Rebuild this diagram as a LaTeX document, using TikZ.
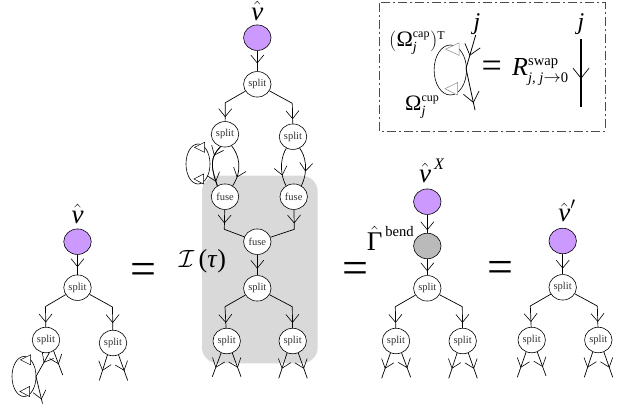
\documentclass[tikz,border=0pt]{standalone}
\usepackage{fontspec}
\setmainfont{Liberation Serif}
\usetikzlibrary{shapes.geometric,arrows.meta,decorations.markings}
\definecolor{blob}{HTML}{CC99FF}
\newcommand{\fsz}[2]{\mbox{\fontsize{#1}{#1}\selectfont #2}}
\newcommand{\vhat}{\hat{\mbox{\textit{v}}}}
\tikzset{
  vnode/.style={ellipse,draw=black,line width=.6pt,inner sep=0pt,minimum width=27.5pt,minimum height=25.5pt},
  stateblob/.style={vnode,fill=#1},
  tag/.style={vnode,fill=white,text=black!80,font=\fontsize{10.5}{10.5}\selectfont},
  strand/.style={draw=black,line width=.7pt},
  vtip/.style={postaction={decorate},decoration={markings,mark=at position #1 with {\arrow{Straight Barb[length=8pt,width=13pt,line width=.6pt]}}}},
  vtipb/.style={postaction={decorate},decoration={markings,mark=at position #1 with {\arrow{Straight Barb[length=10pt,width=16pt,line width=.7pt]}}}},
  lab/.style={inner sep=0pt,font=\fontsize{24}{24}\selectfont},
  vlab/.style={inner sep=0pt,font=\fontsize{27}{27}\selectfont},
  eqsign/.style={inner sep=0pt,font=\fontsize{46}{46}\selectfont},
  pics/vloop/.style={code={
    \draw[line width=.6pt] (0,0) ellipse (12 and 20);
    \draw[line width=.5pt,fill=white,draw=#1] (-3.5,-16.7) -- (6.5,-21.7) -- (6.5,-11.7) -- cycle;
    \draw[line width=.5pt,fill=white,draw=#1] (-4,15) -- (5.5,10) -- (5.5,20) -- cycle;
  }},
  pics/vloop/.default=black
}
\begin{document}
\begin{tikzpicture}[x=1pt,y=-1pt]
\useasboundingbox (0,0) rectangle (634,412);
% shaded region
\fill[black!15,rounded corners=16pt] (202,175.7) rectangle (317.7,363.3);

% ---------- tree 1
\node[stateblob=blob] (a0) at (77.5,241.7) {};
\node[tag] (a1) at (77.5,287.7) {split};
\node[tag] (a2) at (46,340) {split};
\node[tag] (a3) at (113,343) {split};
\coordinate (a2c) at (45.5,306.5);
\coordinate (a3c) at (112.5,307);
\coordinate (a21) at (36,376.5);
\coordinate (a21e) at (42.5,403.5);
\coordinate (a22) at (62.7,375);
\coordinate (a31) at (99.3,380.5);
\coordinate (a32) at (127.7,380.5);
\pic at (24,376.5) {vloop};
\draw[strand,vtip=.62] (a0) -- (a1);
\draw[strand] (a1) -- (a2c);
\draw[strand] (a1) -- (a3c);
\draw[strand,vtip=.78] (a2c) -- (a2);
\draw[strand,vtip=.7] (a3c) -- (a3);
\draw[strand,vtip=.42] (a2.285) -- (a21);
\draw[strand,vtip=.85] (a21) -- (a21e);
\draw[strand,vtip=.55] (a2.305) -- (a22);
\draw[strand,vtip=.62] (a3.245) -- (a31);
\draw[strand,vtip=.62] (a3.295) -- (a32);
\node[vlab] (a0t) at (77.5,214) {$\vhat$};

% ---------- tree 2
\node[stateblob=blob] (b0) at (257.3,37.7) {};
\node[tag] (b1) at (257.3,84.3) {split};
\node[tag] (b2) at (225,134.3) {split};
\node[tag] (b3) at (293,136.7) {split};
\node[tag] (b4) at (225,196.7) {fuse};
\node[tag] (b5) at (293.7,196.7) {fuse};
\node[tag] (b6) at (257.3,241.7) {fuse};
\node[tag] (b7) at (257.3,288.3) {split};
\node[tag] (b8) at (226.7,341) {split};
\node[tag] (b9) at (292.7,341) {split};
\coordinate (b2c) at (225.3,102.7);
\coordinate (b3c) at (292.3,103.3);
\coordinate (b4c) at (224.3,229.3);
\coordinate (b5c) at (294.3,229.3);
\coordinate (b8c) at (225,306.7);
\coordinate (b9c) at (292.3,306.7);
\coordinate (b81) at (212.3,376.7);
\coordinate (b82) at (241,376.7);
\coordinate (b91) at (278.7,378.3);
\coordinate (b92) at (307.3,378.3);
\pic at (198,164) {vloop};
\draw[strand,vtip=.26] (b2.250) .. controls (210.5,157) and (210,165) .. (b4.125);
\draw[strand,vtip=.9] (b2.250) .. controls (210.5,157) and (210,165) .. (b4.125);
\draw[strand,vtip=.62] (b0) -- (b1);
\draw[strand] (b1) -- (b2c);
\draw[strand] (b1) -- (b3c);
\draw[strand,vtip=.78] (b2c) -- (b2);
\draw[strand,vtip=.78] (b3c) -- (b3);
\draw[strand,vtip=.78] (b2.300) .. controls (239,155) and (243,170) .. (b4.55);
\draw[strand,vtip=.72] (b3.240) .. controls (282,155) and (278,170) .. (b5.125);
\draw[strand,vtip=.62] (b3.300) .. controls (305,155) and (309,170) .. (b5.55);
\draw[strand,vtip=.7] (b4) -- (b4c);
\draw[strand,vtip=.7] (b5) -- (b5c);
\draw[strand] (b4c) -- (b6);
\draw[strand] (b5c) -- (b6);
\draw[strand,vtip=.68] (b6) -- (b7);
\draw[strand] (b7) -- (b8c);
\draw[strand] (b7) -- (b9c);
\draw[strand,vtip=.76] (b8c) -- (b8);
\draw[strand,vtip=.76] (b9c) -- (b9);
\draw[strand,vtip=.62] (b8.245) -- (b81);
\draw[strand,vtip=.62] (b8.295) -- (b82);
\draw[strand,vtip=.62] (b9.245) -- (b91);
\draw[strand,vtip=.62] (b9.295) -- (b92);
\node[vlab] (b0t) at (257.3,11) {$\vhat$};
\node[lab,font=\fontsize{26}{26}\selectfont] (bIt) at (202.5,261) {$\mathcal{I}$\,(\textit{τ})};

% ---------- tree 3
\node[stateblob=blob] (c0) at (427.3,201.7) {};
\node[stateblob=black!27] (cg) at (427.3,246) {};
\node[tag] (c1) at (427.3,288.3) {split};
\node[tag] (c2) at (396,341) {split};
\node[tag] (c3) at (462.7,341) {split};
\coordinate (c2c) at (395.3,306.7);
\coordinate (c3c) at (462.3,306.7);
\coordinate (c21) at (381.7,378.3);
\coordinate (c22) at (410.7,377.3);
\coordinate (c31) at (448.7,378.3);
\coordinate (c32) at (477.3,378.3);
\draw[strand,vtip=.85] (c0) -- (cg);
\draw[strand,vtip=.75] (cg) -- (c1);
\draw[strand] (c1) -- (c2c);
\draw[strand] (c1) -- (c3c);
\draw[strand,vtip=.76] (c2c) -- (c2);
\draw[strand,vtip=.76] (c3c) -- (c3);
\draw[strand,vtip=.62] (c2.245) -- (c21);
\draw[strand,vtip=.62] (c2.295) -- (c22);
\draw[strand,vtip=.62] (c3.245) -- (c31);
\draw[strand,vtip=.62] (c3.295) -- (c32);
\node[vlab] (c0t) at (432,171) {$\vhat^{\,\mbox{\fontsize{16}{16}\selectfont\textit{X}}}$};
\node[lab,font=\fontsize{27}{27}\selectfont] (cgt) at (390.5,238) {$\hat{\mbox{Γ}}^{\,\raisebox{-4pt}{\fsz{14.6}{bend}}}$};

% ---------- tree 4
\node[stateblob=blob] (d0) at (562.7,241) {};
\node[tag] (d1) at (562.7,287.3) {split};
\node[tag] (d2) at (531.7,340) {split};
\node[tag] (d3) at (598.3,340) {split};
\coordinate (d2c) at (530.3,306);
\coordinate (d3c) at (597.3,306);
\coordinate (d21) at (517.3,377.3);
\coordinate (d22) at (546,376);
\coordinate (d31) at (584.3,377.3);
\coordinate (d32) at (612.7,377.3);
\draw[strand,vtip=.72] (d0) -- (d1);
\draw[strand] (d1) -- (d2c);
\draw[strand] (d1) -- (d3c);
\draw[strand,vtip=.76] (d2c) -- (d2);
\draw[strand,vtip=.76] (d3c) -- (d3);
\draw[strand,vtip=.62] (d2.245) -- (d21);
\draw[strand,vtip=.62] (d2.295) -- (d22);
\draw[strand,vtip=.62] (d3.245) -- (d31);
\draw[strand,vtip=.62] (d3.295) -- (d32);
\node[vlab] (d0t) at (567,211) {$\vhat'$};

% ---------- equals
\node[eqsign] (eq1) at (143.5,273.5) {=};
\node[eqsign] (eq2) at (355.7,273) {=};
\node[eqsign] (eq3) at (500,272) {=};

% ---------- inset
\draw[black!70,line width=.8pt,dash pattern=on 9pt off 3pt on 2pt off 3pt] (379.3,2.7) rectangle (605,131);
\coordinate (e1) at (475.7,35);
\coordinate (e2) at (466,68.5);
\coordinate (e3) at (475,110);
\coordinate (e4) at (581,39.3);
\coordinate (e5) at (581,107.3);
\pic[xscale=1.35,yscale=1.25] at (450.3,70) {vloop={black!45}};
\draw[strand,line width=.8pt,vtipb=.62] (e1) -- (e2);
\draw[strand,line width=.8pt,vtipb=.83] (e2) -- (e3);
\draw[black,line width=1.3pt,vtipb=.58] (e4) -- (e5);
\node[lab] (e1t) at (477,24) {\textit{j}};
\node[lab] (e4t) at (581,24) {\textit{j}};
\node[lab,anchor=west] (ecap) at (389,43) {\fontsize{22}{22}\selectfont$(\mbox{Ω}^{\fsz{12}{cap}}_{\fsz{14}{\textit{j}}})^{\fsz{12}{T}}$};
\node[lab,anchor=west] (ecup) at (405,107) {\fontsize{22}{22}\selectfont$\mbox{Ω}^{\fsz{12}{cup}}_{\fsz{14}{\textit{j}}}$};
\node[inner sep=0pt,font=\fontsize{36}{36}\selectfont] (eeq) at (491.7,69) {=};
\node[lab,anchor=west] (eR) at (512,72) {\fontsize{26}{26}\selectfont$\mbox{\textit{R}}^{\fsz{14.6}{swap}}_{\fsz{14.6}{\textit{j, j}}\rightarrow\fsz{14.6}{0}}$};
\end{tikzpicture}
\end{document}
